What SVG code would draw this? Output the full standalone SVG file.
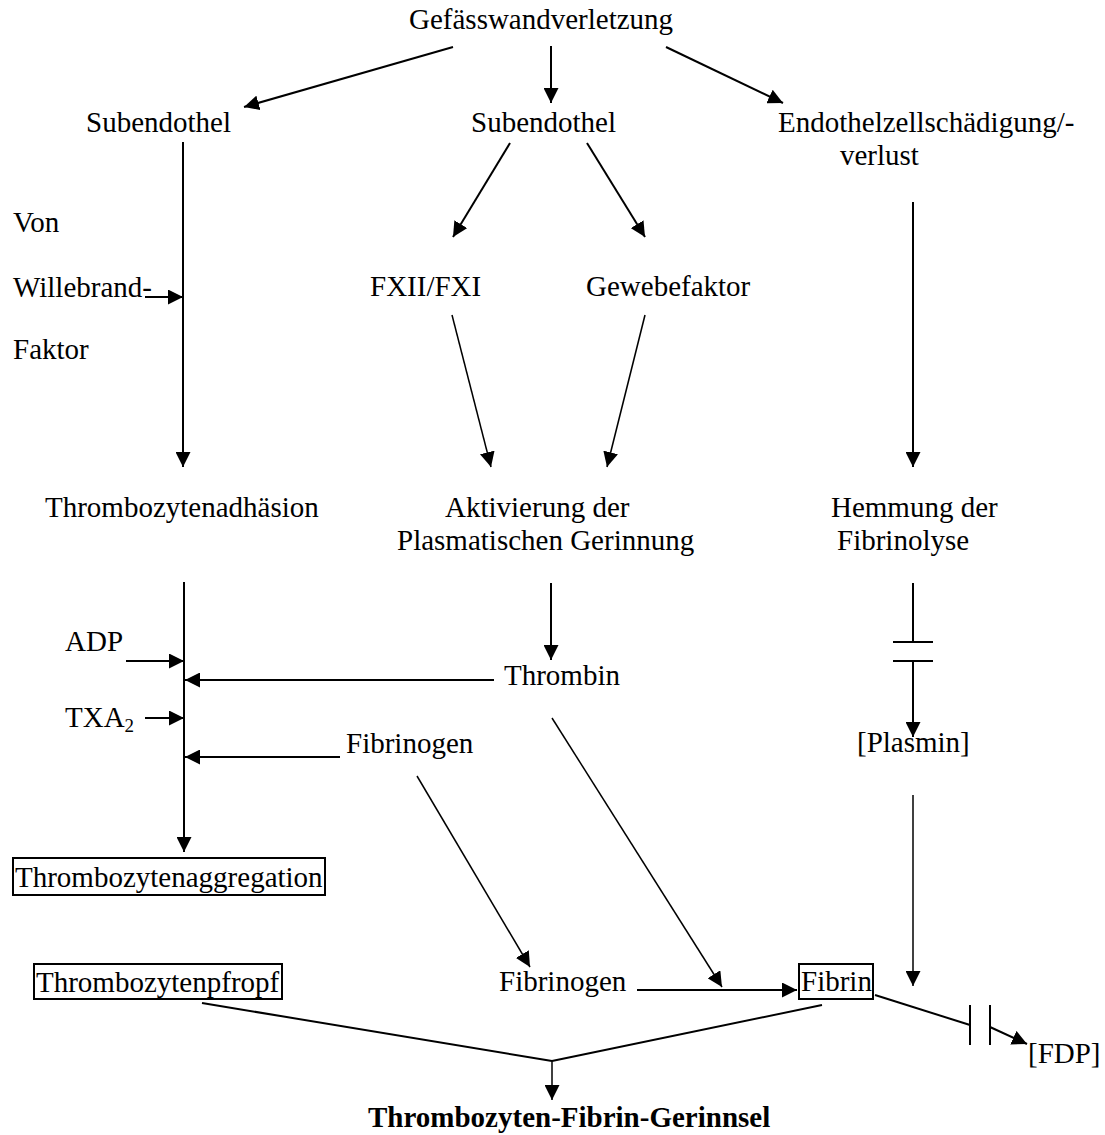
<svg xmlns="http://www.w3.org/2000/svg" width="1105" height="1135" viewBox="0 0 1105 1135">
<style>
text{font-family:"Liberation Serif","Times New Roman",serif;font-size:29px;fill:#000}
.b{font-weight:bold}
.c{stroke:#000;stroke-width:2;fill:none}
.t{stroke:#000;stroke-width:1.5;fill:none}
.a{marker-end:url(#ah)}
.box{fill:none;stroke:#000;stroke-width:2}
</style>
<defs>
<marker id="ah" markerUnits="userSpaceOnUse" markerWidth="16" markerHeight="15" refX="15" refY="7.5" orient="auto">
<path d="M0,0 L15,7.5 L0,15 z" fill="#000"/>
</marker>
</defs>
<rect width="1105" height="1135" fill="#fff"/>
<g id="connectors">
<line class="c a" x1="453" y1="47" x2="244" y2="107"/>
<line class="c a" x1="551" y1="46" x2="551" y2="103"/>
<line class="c a" x1="666" y1="47" x2="783" y2="103"/>
<line class="c a" x1="183" y1="142" x2="183" y2="467"/>
<line class="c a" x1="145" y1="297" x2="183" y2="297"/>
<line class="c a" x1="510" y1="143" x2="453" y2="237"/>
<line class="c a" x1="587" y1="143" x2="645" y2="237"/>
<line class="t a" x1="452" y1="315" x2="491" y2="467"/>
<line class="t a" x1="645" y1="315" x2="607" y2="467"/>
<line class="c a" x1="913" y1="202" x2="913" y2="467"/>
<line class="c a" x1="184" y1="582" x2="184" y2="852"/>
<line class="c a" x1="126" y1="661" x2="184" y2="661"/>
<line class="c a" x1="494" y1="680" x2="185" y2="680"/>
<line class="c a" x1="145" y1="718" x2="184" y2="718"/>
<line class="c a" x1="340" y1="757" x2="185" y2="757"/>
<line class="c a" x1="551" y1="583" x2="551" y2="660"/>
<line class="c" x1="913" y1="583" x2="913" y2="642"/>
<line class="c" x1="893" y1="642" x2="933" y2="642"/>
<line class="c" x1="893" y1="661" x2="933" y2="661"/>
<line class="c a" x1="913" y1="661" x2="913" y2="737"/>
<line class="t a" x1="913" y1="795" x2="913" y2="986"/>
<line class="t a" x1="417" y1="776" x2="530" y2="967"/>
<line class="t a" x1="552" y1="718" x2="722" y2="987"/>
<line class="c a" x1="637" y1="990" x2="797" y2="990"/>
<line class="c" x1="202" y1="1003" x2="552" y2="1061"/>
<line class="c" x1="822" y1="1005" x2="552" y2="1061"/>
<line class="t a" x1="552" y1="1061" x2="552" y2="1100"/>
<line class="c" x1="875" y1="995" x2="970" y2="1025"/>
<line class="c" x1="970" y1="1005" x2="970" y2="1045"/>
<line class="c" x1="990" y1="1005" x2="990" y2="1045"/>
<line class="c a" x1="990" y1="1027" x2="1027" y2="1044"/>
</g>
<g id="n-gefaess"><text x="409" y="29">Gefässwandverletzung</text></g>
<g id="n-subendothel1"><text x="86" y="132">Subendothel</text></g>
<g id="n-subendothel2"><text x="471" y="132">Subendothel</text></g>
<g id="n-endothel"><text x="778" y="132">Endothelzellschädigung/-</text><text x="840" y="165">verlust</text></g>
<g id="n-vwf"><text x="13" y="232">Von</text><text x="13" y="297">Willebrand-</text><text x="13" y="359">Faktor</text></g>
<g id="n-fxii"><text x="370" y="296">FXII/FXI</text></g>
<g id="n-gewebefaktor"><text x="586" y="296">Gewebefaktor</text></g>
<g id="n-adhaesion"><text x="45" y="517">Thrombozytenadhäsion</text></g>
<g id="n-aktivierung"><text x="445" y="517">Aktivierung der</text><text x="397" y="550">Plasmatischen Gerinnung</text></g>
<g id="n-hemmung"><text x="831" y="517">Hemmung der</text><text x="837" y="550">Fibrinolyse</text></g>
<g id="n-adp"><text x="65" y="651">ADP</text></g>
<g id="n-thrombin"><text x="504" y="685">Thrombin</text></g>
<g id="n-txa2"><text x="65" y="727">TXA<tspan font-size="19" dy="5">2</tspan></text></g>
<g id="n-fibrinogen1"><text x="346" y="753">Fibrinogen</text></g>
<g id="n-plasmin"><text x="857" y="752">[Plasmin]</text></g>
<g id="n-aggregation"><rect class="box" x="13" y="858" width="312" height="37"/><text x="15" y="887">Thrombozytenaggregation</text></g>
<g id="n-pfropf"><rect class="box" x="34" y="964" width="248" height="35"/><text x="36" y="992">Thrombozytenpfropf</text></g>
<g id="n-fibrinogen2"><text x="499" y="991">Fibrinogen</text></g>
<g id="n-fibrin"><rect class="box" x="799" y="964" width="74" height="35"/><text x="801" y="991">Fibrin</text></g>
<g id="n-fdp"><text x="1028" y="1063">[FDP]</text></g>
<g id="n-gerinnsel"><text class="b" x="368" y="1127">Thrombozyten-Fibrin-Gerinnsel</text></g>
</svg>
